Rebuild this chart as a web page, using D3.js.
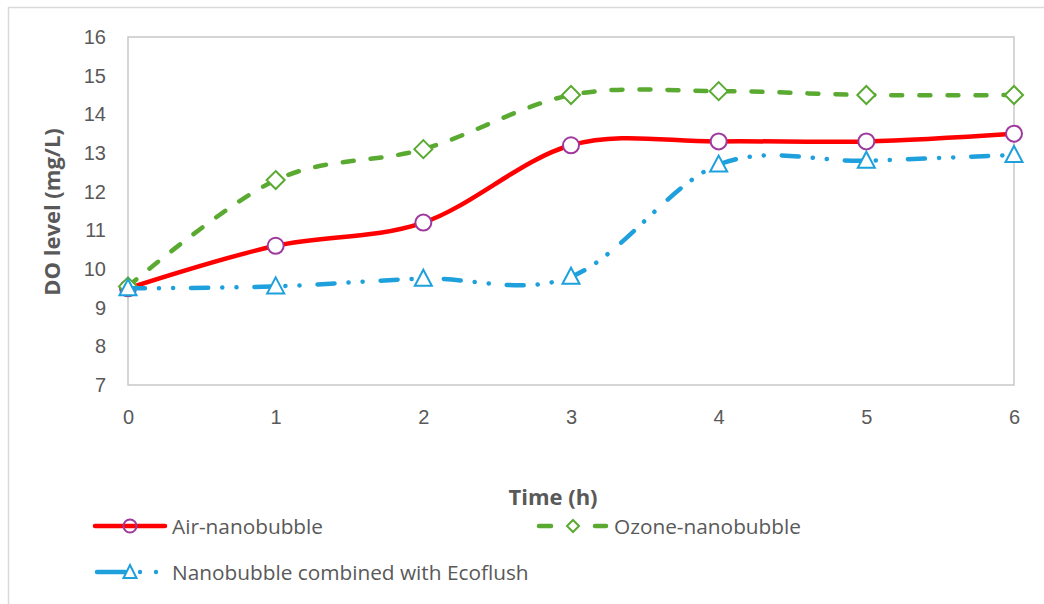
<!DOCTYPE html>
<html><head><meta charset="utf-8">
<script src="https://cdn.jsdelivr.net/npm/d3@7"></script>
<style>body{margin:0;background:#fff}svg{display:block;font-family:"Open Sans",sans-serif}</style>
</head><body>
<svg id="c" width="1044" height="604"></svg>
<script>
const times = [0, 1, 2, 3, 4, 5, 6];
const yTicks = [7, 8, 9, 10, 11, 12, 13, 14, 15, 16];
const airValues = [9.5, 10.6, 11.2, 13.2, 13.3, 13.3, 13.5];
const ozoneValues = [9.55, 12.3, 13.1, 14.5, 14.6, 14.5, 14.5];
const ecoValues = [9.5, 9.55, 9.75, 9.8, 12.7, 12.8, 12.95];
const seriesNames = ["Air-nanobubble", "Ozone-nanobubble", "Nanobubble combined with Ecoflush"];
const xTitle = "Time (h)";
const yTitle = "DO level (mg/L)";

const svg = d3.select("#c");
const txt = "#595959";
svg.append("rect").attr("x", 8.5).attr("y", 7.5).attr("width", 1100).attr("height", 700)
  .attr("fill", "none").attr("stroke", "#d9d9d9").attr("stroke-width", 1.5);

const x = d3.scaleLinear().domain([0, 6]).range([128, 1014]);
const y = d3.scaleLinear().domain([7, 16]).range([385, 37]);

svg.append("rect").attr("x", x(0)).attr("y", y(16)).attr("width", x(6) - x(0)).attr("height", y(7) - y(16))
  .attr("fill", "none").attr("stroke", "#c8c8c8").attr("stroke-width", 1.5);

const yAxis = svg.append("g").attr("transform", `translate(${x(0)},0)`)
  .call(d3.axisLeft(y).tickValues(yTicks).tickSize(0).tickPadding(22));
yAxis.select(".domain").remove();
yAxis.selectAll("text").attr("fill", txt).style("font-size", "20px").style("font-family", null);

const xAxis = svg.append("g").attr("transform", `translate(0,${y(7)})`)
  .call(d3.axisBottom(x).tickValues(times).tickFormat(d3.format("d")).tickSize(0).tickPadding(25));
xAxis.select(".domain").remove();
xAxis.selectAll("text").attr("fill", txt).style("font-size", "20px").style("font-family", null);

svg.append("text").attr("x", 553).attr("y", 505).attr("text-anchor", "middle")
  .attr("fill", txt).style("font-size", "22px").style("font-weight", "bold").text(xTitle);
svg.append("text").attr("transform", `translate(60,212) rotate(-90)`).attr("text-anchor", "middle")
  .attr("fill", txt).style("font-size", "22px").style("font-weight", "bold").text(yTitle);

const line = d3.line().x((d, i) => x(times[i])).y(d => y(d)).curve(d3.curveCatmullRom.alpha(0));

const series = [
  {vals: airValues, color: "#ff0000", dash: null, marker: "circle", mcolor: "#9e3a9e"},
  {vals: ozoneValues, color: "#5aaa32", dash: "11,17", marker: "diamond", mcolor: "#5aaa32"},
  {vals: ecoValues, color: "#1ea0dc", dash: "17,14,0.1,14,0.1,18", marker: "triangle", mcolor: "#1ea0dc"}
];

function drawMarker(g, type, cx, cy, color) {
  if (type === "circle") {
    g.append("circle").attr("cx", cx).attr("cy", cy).attr("r", 8)
      .attr("fill", "#fff").attr("stroke", color).attr("stroke-width", 2);
  } else if (type === "diamond") {
    g.append("path").attr("d", `M${cx},${cy-9}L${cx+9},${cy}L${cx},${cy+9}L${cx-9},${cy}Z`)
      .attr("fill", "#fff").attr("stroke", color).attr("stroke-width", 2);
  } else {
    g.append("path").attr("d", `M${cx},${cy-9}L${cx+8.5},${cy+7}L${cx-8.5},${cy+7}Z`)
      .attr("fill", "#fff").attr("stroke", color).attr("stroke-width", 2);
  }
}

series.forEach(s => {
  const g = svg.append("g");
  g.append("path").datum(s.vals).attr("d", line).attr("fill", "none")
    .attr("stroke", s.color).attr("stroke-width", 4.5).attr("stroke-linecap", "round")
    .attr("stroke-dasharray", s.dash);
  s.vals.forEach((v, i) => drawMarker(g, s.marker, x(times[i]), y(v), s.mcolor));
});

const legendPos = [[95, 526], [537, 526], [95, 572]];
series.forEach((s, i) => {
  const [lx, ly] = legendPos[i];
  const g = svg.append("g");
  if (i === 0) {
    g.append("line").attr("x1", lx).attr("x2", lx + 70).attr("y1", ly).attr("y2", ly)
      .attr("stroke", s.color).attr("stroke-width", 4.5).attr("stroke-linecap", "round");
  } else if (i === 1) {
    g.append("line").attr("x1", lx + 2).attr("x2", lx + 14).attr("y1", ly).attr("y2", ly)
      .attr("stroke", s.color).attr("stroke-width", 4.5).attr("stroke-linecap", "round");
    g.append("line").attr("x1", lx + 58).attr("x2", lx + 69).attr("y1", ly).attr("y2", ly)
      .attr("stroke", s.color).attr("stroke-width", 4.5).attr("stroke-linecap", "round");
  } else {
    g.append("line").attr("x1", lx + 2).attr("x2", lx + 30).attr("y1", ly).attr("y2", ly)
      .attr("stroke", s.color).attr("stroke-width", 4.5).attr("stroke-linecap", "round");
    g.append("circle").attr("cx", lx + 45).attr("cy", ly).attr("r", 2.2).attr("fill", s.color);
    g.append("circle").attr("cx", lx + 61).attr("cy", ly).attr("r", 2.2).attr("fill", s.color);
  }
  const mx = lx + 35;
  if (s.marker === "circle") {
    g.append("circle").attr("cx", mx).attr("cy", ly).attr("r", 6.5)
      .attr("fill", "none").attr("stroke", s.mcolor).attr("stroke-width", 2);
  } else if (s.marker === "diamond") {
    g.append("path").attr("d", `M${mx+1},${ly-6}L${mx+7},${ly}L${mx+1},${ly+6}L${mx-5},${ly}Z`)
      .attr("fill", "#fff").attr("stroke", s.mcolor).attr("stroke-width", 2);
  } else {
    g.append("path").attr("d", `M${mx},${ly-7}L${mx+6.5},${ly+6}L${mx-6.5},${ly+6}Z`)
      .attr("fill", "#fff").attr("stroke", s.mcolor).attr("stroke-width", 2);
  }
  g.append("text").attr("x", lx + 77).attr("y", ly + 7.5).attr("fill", txt)
    .style("font-size", "20.8px").text(seriesNames[i]);
});
</script>
</body></html>
